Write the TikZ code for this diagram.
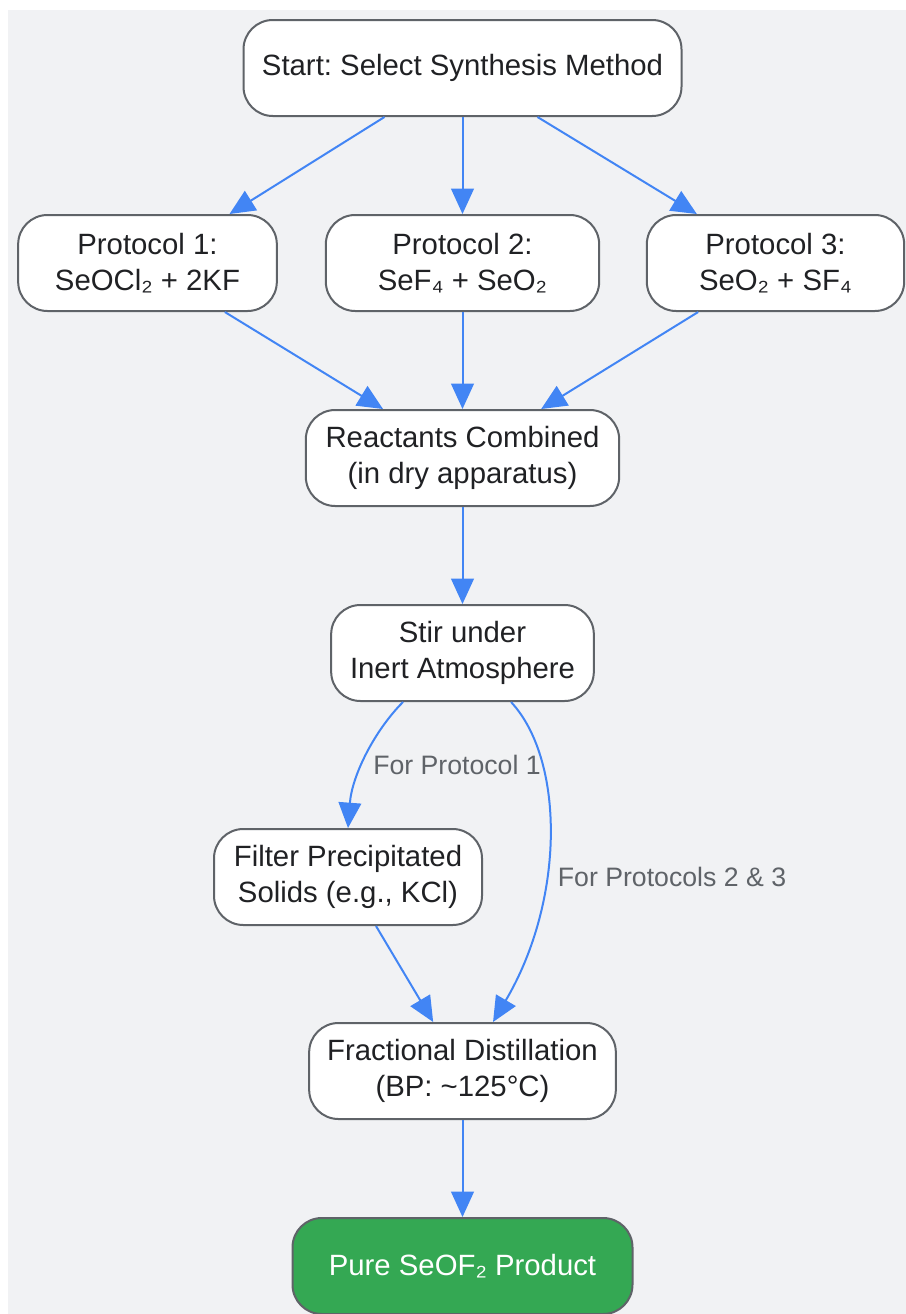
\documentclass[tikz,border=0pt]{standalone}
\usepackage{fontspec}
\setmainfont{Liberation Sans}
\usetikzlibrary{arrows.meta}
\definecolor{bgGray}{HTML}{F1F2F4}
\definecolor{boxLine}{HTML}{5F6368}
\definecolor{boxText}{HTML}{202124}
\definecolor{flowBlue}{HTML}{4285F4}
\definecolor{doneGreen}{HTML}{34A853}
\def\boxH{72pt}
\tikzstyle{flow} = [draw=flowBlue, line width=1.5pt, -{Triangle[length=19pt,width=17pt]}]
\frenchspacing

\begin{document}
\begin{tikzpicture}[x=0.75pt, y=-0.75pt]
    \tikzstyle{step box}=[rectangle, rounded corners=22pt, draw=boxLine, line width=1.5pt, fill=white, text=boxText, minimum height=\boxH, inner sep=0pt, align=center, font=\fontsize{22}{26.5}\selectfont]
    \tikzstyle{end box}=[step box, fill=doneGreen, text=white]
    \tikzstyle{note}=[text=boxLine, font=\fontsize{20}{24}\selectfont]

    \useasboundingbox (0,0) rectangle (906,1314);
    \fill[bgGray] (8,10) rectangle (906,1314);

    % Draw the start node
    \node[step box, minimum width=328.5pt] (start) at (462.5,68) {Start: Select Synthesis Method};

    % Draw the three protocols
    \foreach \name / \x / \w / \mix in {1/147.5/194pt/{SeOCl₂ + 2KF}, 2/462.5/205pt/{SeF₄ + SeO₂}, 3/775.5/193pt/{SeO₂ + SF₄}}
        \node[step box, minimum width=\w] (P-\name) at (\x,263) {Protocol \name:\\\mix};

    % Draw the common steps
    \node[step box, minimum width=235pt] (mix) at (462.5,458) {Reactants Combined\\(in dry apparatus)};
    \node[step box, minimum width=197pt] (stir) at (462.5,653) {Stir under\\Inert Atmosphere};
    \node[step box, minimum width=201pt] (filter) at (348,877) {Filter Precipitated\\Solids (e.g., KCl)};
    \node[step box, minimum width=230pt] (distil) at (462.5,1071) {Fractional Distillation\\(BP: \textasciitilde125°C)};
    \node[end box, minimum width=255pt] (product) at (462.5,1266) {Pure SeOF₂ Product};

    % Edge labels
    \node[note] (L-1) at (457,765) {For Protocol 1};
    \node[note] (L-23) at (672,877) {For Protocols 2 \& 3};

    % Draw the connections
    \draw[flow] ([xshift=-58.5pt]start.south) -- ([xshift=61.5pt]P-1.north);
    \draw[flow] (start.south) -- (P-2.north);
    \draw[flow] ([xshift=56.25pt]start.south) -- ([xshift=-59pt]P-3.north);
    \draw[flow] ([xshift=58pt]P-1.south) -- ([xshift=-59.6pt]mix.north);
    \draw[flow] (P-2.south) -- (mix.north);
    \draw[flow] ([xshift=-58pt]P-3.south) -- ([xshift=59pt]mix.north);
    \draw[flow] (mix.south) -- (stir.north);
    \draw[flow] ([xshift=-44.6pt]stir.south) .. controls (375,730) and (352,775) .. (filter.north);
    \draw[flow] ([xshift=36.4pt]stir.south) .. controls (565,760) and (565,900) .. ([xshift=22.9pt]distil.north);
    \draw[flow] ([xshift=21pt]filter.south) -- ([xshift=-22pt]distil.north);
    \draw[flow] (distil.south) -- (product.north);
\end{tikzpicture}
\end{document}
